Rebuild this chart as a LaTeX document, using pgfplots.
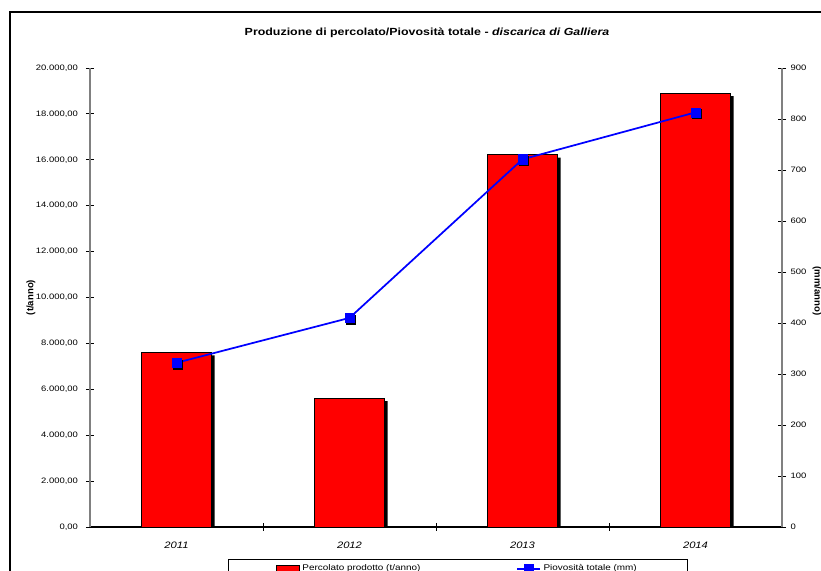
\documentclass[border=0pt]{standalone}
\usepackage{fontspec}
\setmainfont{Liberation Sans}[FakeStretch=1.2]
\newfontfamily\rotfont{Liberation Sans}
\usepackage{pgfplots}
\pgfplotsset{compat=1.18}
\begin{document}
\begin{tikzpicture}[x=0.75pt,y=0.75pt]
\useasboundingbox (0,0) rectangle (821,571);
\fill[white] (0,0) rectangle (821,571);
\draw[line width=1.2pt] (10,-40) rectangle (880,559);
\node[font=\fontsize{7.75}{9}\selectfont\bfseries] at (427,538) {Produzione di percolato/Piovosità totale - \textit{discarica di Galliera}};
\node[rotate=90, font=\rotfont\bfseries\fontsize{7.2}{8}\selectfont] at (31,273.5) {(t/anno)};
\node[rotate=-90, font=\rotfont\bfseries\fontsize{7.2}{8}\selectfont] at (817,280) {(mm/anno)};

\begin{axis}[
  at={(67.5pt,33pt)}, anchor=south west,
  scale only axis, width=519pt, height=344.25pt,
  xmin=-0.5, xmax=3.5, ymin=0, ymax=20000,
  axis x line*=bottom, axis y line*=left,
  x axis line style={black, line width=0.8pt},
  y axis line style={gray, line width=0.8pt},
  xtick={0.5,1.5,2.5}, xticklabels={},
  extra x ticks={0,1,2,3},
  extra x tick labels={2011,2012,2013,2014},
  extra x tick style={major tick length=0pt, xticklabel style={font=\fontsize{7}{8}\selectfont\itshape, yshift=-7.5pt}},
  ytick={0,2000,...,20000},
  scaled y ticks=false,
  tick align=center, major tick length=6pt,
  tick style={black, line width=0.6pt},
  yticklabel style={font=\fontsize{5.9}{7}\selectfont, xshift=-2.5pt, /pgf/number format/.cd, fixed, fixed zerofill, precision=2, 1000 sep={.}, use comma, assume math mode=true},
]
\addplot[ybar, bar width=52.5pt, bar shift=2.25pt, yshift=-2.25pt, fill=black, draw=none] coordinates {(0,7610) (1,5610) (2,16220) (3,18900)};
\addplot[ybar, bar width=52.5pt, bar shift=0pt, fill=red, draw=black, line width=0.6pt] coordinates {(0,7610) (1,5610) (2,16220) (3,18900)};
\end{axis}

\begin{axis}[
  at={(67.5pt,33pt)}, anchor=south west,
  scale only axis, width=519pt, height=344.25pt,
  xmin=-0.5, xmax=3.5, ymin=0, ymax=900,
  axis x line=none, xtick=\empty,
  axis y line*=right,
  y axis line style={gray, line width=0.8pt},
  ytick={0,100,...,900},
  tick align=center, major tick length=6pt,
  tick style={black, line width=0.6pt},
  yticklabel style={font=\fontsize{5.9}{7}\selectfont, /pgf/number format/assume math mode=true},
  legend columns=2,
  legend cell align=left,
  legend style={at={(0.1994,-0.0697)}, anchor=north west, draw=black, line width=0.5pt,
    font=\fontsize{6.2}{7.5}\selectfont, inner xsep=36pt, inner ysep=2pt,
    /tikz/every even column/.append style={column sep=70pt}},
]
\addlegendimage{area legend, fill=red, draw=black}
\addlegendentry{Percolato prodotto (t/anno)}
\addplot[black, only marks, mark=square*, mark size=3.4pt, xshift=1.2pt, yshift=-1.2pt, forget plot] coordinates {(0,322) (1,410) (2,721) (3,813)};
\addplot[blue, line width=1.3pt, mark=square*, mark options={fill=blue, draw=blue, line width=0.4pt}, mark size=3.4pt] coordinates {(0,322) (1,410) (2,721) (3,813)};
\addlegendentry{Piovosità totale (mm)}
\end{axis}
\end{tikzpicture}
\end{document}
